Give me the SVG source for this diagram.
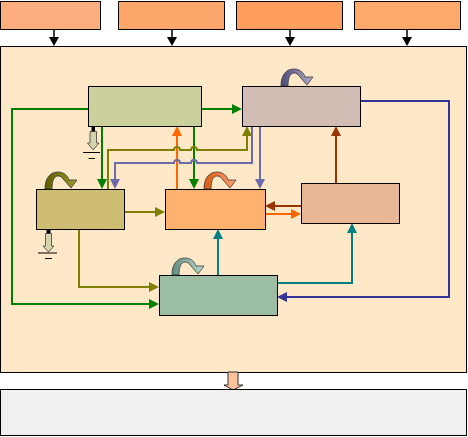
<svg xmlns="http://www.w3.org/2000/svg" width="468" height="437" viewBox="0 0 468 437">
<style>
.box{stroke:#000;stroke-width:1}
.ln{fill:none;stroke-width:2}
.grn{stroke:#008000}.olv{stroke:#808000}.lav{stroke:#6B6BAA}.dbl{stroke:#333399}
.org{stroke:#FF6600}.brn{stroke:#993300}.tel{stroke:#008080}
.loop{stroke:#333;stroke-width:0.75}
.gnd{stroke:#000;stroke-width:1}
</style>
<defs>
<marker id="mG" viewBox="0 0 10 10" refX="8" refY="5" markerWidth="10" markerHeight="10" markerUnits="userSpaceOnUse" orient="auto"><path d="M0,0 L10,5 L0,10 z" fill="#008000"/></marker>
<marker id="mO" viewBox="0 0 10 10" refX="8" refY="5" markerWidth="10" markerHeight="10" markerUnits="userSpaceOnUse" orient="auto"><path d="M0,0 L10,5 L0,10 z" fill="#808000"/></marker>
<marker id="mL" viewBox="0 0 10 10" refX="8" refY="5" markerWidth="10" markerHeight="10" markerUnits="userSpaceOnUse" orient="auto"><path d="M0,0 L10,5 L0,10 z" fill="#6B6BAA"/></marker>
<marker id="mD" viewBox="0 0 10 10" refX="8" refY="5" markerWidth="10" markerHeight="10" markerUnits="userSpaceOnUse" orient="auto"><path d="M0,0 L10,5 L0,10 z" fill="#333399"/></marker>
<marker id="mR" viewBox="0 0 10 10" refX="8" refY="5" markerWidth="10" markerHeight="10" markerUnits="userSpaceOnUse" orient="auto"><path d="M0,0 L10,5 L0,10 z" fill="#FF6600"/></marker>
<marker id="mB" viewBox="0 0 10 10" refX="8" refY="5" markerWidth="10" markerHeight="10" markerUnits="userSpaceOnUse" orient="auto"><path d="M0,0 L10,5 L0,10 z" fill="#993300"/></marker>
<marker id="mT" viewBox="0 0 10 10" refX="8" refY="5" markerWidth="10" markerHeight="10" markerUnits="userSpaceOnUse" orient="auto"><path d="M0,0 L10,5 L0,10 z" fill="#008080"/></marker>
<linearGradient id="gB" x1="0" x2="1" y1="0" y2="0"><stop offset="0" stop-color="#4A4A7A"/><stop offset="1" stop-color="#B4ACC8"/></linearGradient>
<linearGradient id="gC" x1="0" x2="1" y1="0" y2="0"><stop offset="0" stop-color="#5E5E00"/><stop offset="1" stop-color="#9A9A30"/></linearGradient>
<linearGradient id="gD" x1="0" x2="1" y1="0" y2="0"><stop offset="0" stop-color="#D85A10"/><stop offset="1" stop-color="#FFA070"/></linearGradient>
<linearGradient id="gF" x1="0" x2="1" y1="0" y2="0"><stop offset="0" stop-color="#5E8E80"/><stop offset="1" stop-color="#B8D8C8"/></linearGradient>
<path id="loop" d="M0,0 C0,-11 5,-17 13,-17 C19,-17 23,-13 24,-9 L32,-9 L26,-1 L19,-9 C17,-12 15,-13 13,-13 C9,-13 7,-8 7,0 Z"/>
</defs>

<g id="inputs">
<rect class="box" x="0.5" y="1.5" width="100" height="28" fill="#FDAE7E"/>
<rect class="box" x="118.5" y="1.5" width="106" height="28" fill="#FDA76C"/>
<rect class="box" x="236.5" y="1.5" width="106" height="28" fill="#FF9F5D"/>
<rect class="box" x="354.5" y="1.5" width="106" height="28" fill="#FDA96C"/>
</g>
<g id="input-arrows" fill="#000" stroke="#000">
<path d="M54,29 V37" stroke-width="1.5"/><path d="M49,37 L59,37 L54,46 z" stroke="none"/>
<path d="M172,29 V37" stroke-width="1.5"/><path d="M167,37 L177,37 L172,46 z" stroke="none"/>
<path d="M290,29 V37" stroke-width="1.5"/><path d="M285,37 L295,37 L290,46 z" stroke="none"/>
<path d="M407,29 V37" stroke-width="1.5"/><path d="M402,37 L412,37 L407,46 z" stroke="none"/>
</g>

<g id="panel"><rect class="box" x="0.5" y="46.5" width="466" height="326" fill="#FEE8C8"/></g>

<g id="output-arrow"><path d="M228,372 V385 H224 L233,390 L243,385 H238 V372 Z" fill="#FFC299" stroke="#333" stroke-width="1"/></g>
<g id="output"><rect class="box" x="0.5" y="389.5" width="466" height="46" fill="#F0F0EE"/></g>

<g id="connectors">
<path class="ln grn" d="M88,109 H12 V304 H157" marker-end="url(#mG)"/>
<path class="ln grn" d="M201,109 H240" marker-end="url(#mG)"/>
<path class="ln grn" d="M102,126 V187" marker-end="url(#mG)"/>
<path class="ln grn" d="M194,126 V187" marker-end="url(#mG)"/>
<path class="ln org" d="M177,189 V128" marker-end="url(#mR)"/>
<path class="ln olv" d="M108,189 V150 H174 A3 3 0 0 1 180 150 H191 A3 3 0 0 1 197 150 H247 V128" marker-end="url(#mO)"/>
<path class="ln lav" d="M252,126 V163 H197 A3 3 0 0 0 191 163 H180 A3 3 0 0 0 174 163 H115 V187" marker-end="url(#mL)"/>
<path class="ln lav" d="M260,126 V187" marker-end="url(#mL)"/>
<path class="ln olv" d="M124,212 H163" marker-end="url(#mO)"/>
<path class="ln olv" d="M79,229 V287 H157" marker-end="url(#mO)"/>
<path class="ln dbl" d="M360,101 H449 V297 H279" marker-end="url(#mD)"/>
<path class="ln org" d="M265,214 H299" marker-end="url(#mR)"/>
<path class="ln brn" d="M301,206 H267" marker-end="url(#mB)"/>
<path class="ln brn" d="M336,183 V128" marker-end="url(#mB)"/>
<path class="ln tel" d="M218,275 V231" marker-end="url(#mT)"/>
<path class="ln tel" d="M277,283 H352 V225" marker-end="url(#mT)"/>
</g>

<g id="nodeA">
<rect class="box" x="88.5" y="86.5" width="113" height="40" fill="#CCD09C"/>
<rect x="91.5" y="127" width="3.5" height="5" fill="#000"/>
<path d="M90,131.5 H96.5 V143 H99 L93.2,150 L87.5,143 H90 Z" fill="#D4D4AC" stroke="#333" stroke-width="0.75"/>
<path class="gnd" d="M83,152.5 H100 M88.5,158.5 H95"/>
</g>
<g id="nodeB">
<rect class="box" x="242.5" y="86.5" width="118" height="40" fill="#D2BCB4"/>
<use href="#loop" class="loop" fill="url(#gB)" transform="translate(281,86)"/>
</g>
<g id="nodeC">
<rect class="box" x="36.5" y="189.5" width="88" height="40" fill="#CFBD74"/>
<use href="#loop" class="loop" fill="url(#gC)" transform="translate(45,189)"/>
<rect x="46.5" y="230" width="4" height="4" fill="#000"/>
<path d="M45.5,233.5 H51.5 V246 H54 L48.5,252 L43,246 H45.5 Z" fill="#D4D4AC" stroke="#333" stroke-width="0.75"/>
<path class="gnd" d="M38,253 H57 M45,258.5 H52"/>
</g>
<g id="nodeD">
<rect class="box" x="165.5" y="189.5" width="100" height="40" fill="#FFB26E"/>
<use href="#loop" class="loop" fill="url(#gD)" transform="translate(204,189)"/>
</g>
<g id="nodeE">
<rect class="box" x="301.5" y="183.5" width="98" height="40" fill="#E8B896"/>
</g>
<g id="nodeF">
<rect class="box" x="159.5" y="275.5" width="118" height="40" fill="#9BBDA4"/>
<use href="#loop" class="loop" fill="url(#gF)" transform="translate(172,275)"/>
</g>
</svg>
